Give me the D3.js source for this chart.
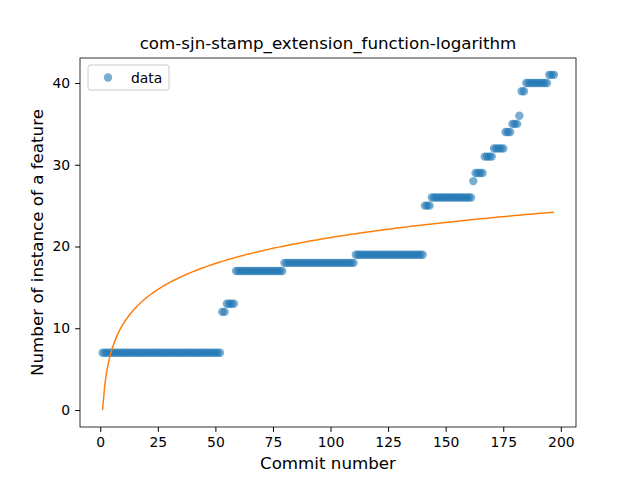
<!DOCTYPE html>
<html><head><meta charset="utf-8">
<script src="https://cdn.jsdelivr.net/npm/d3@7"></script>
<style>body{margin:0;background:#fff}text{font-family:"DejaVu Sans",sans-serif}</style>
</head><body><div id="chart"></div>
<script>
// Step segments: commit range and feature count
const segStart = [1, 53, 55, 59, 80, 111, 141, 144, 162, 163, 167, 171, 176, 179, 182, 183, 185, 195];
const segEnd   = [52, 54, 58, 79, 110, 140, 143, 161, 162, 166, 170, 175, 178, 181, 182, 184, 194, 197];
const segValue = [7, 12, 13, 17, 18, 19, 25, 26, 28, 29, 31, 32, 34, 35, 36, 39, 40, 41];
// logarithmic fit y = a + b*ln(x)
const fitA = 0, fitB = 4.58, fitMax = 197;
const xTicks = [0, 25, 50, 75, 100, 125, 150, 175, 200];
const yTicks = [0, 10, 20, 30, 40];

const points = [];
segStart.forEach((s, i) => { for (let x = s; x <= segEnd[i]; x++) points.push({x: x, y: segValue[i]}); });
const fit = d3.range(1, fitMax + 1).map(x => ({x: x, y: fitA + fitB * Math.log(x)}));

const margin = {top: 58, right: 64, bottom: 53, left: 80};
const width = 640 - margin.left - margin.right;
const height = 480 - margin.top - margin.bottom;

const svg = d3.select("#chart").append("svg").attr("width", 640).attr("height", 480);
const g = svg.append("g").attr("transform", "translate(" + margin.left + "," + margin.top + ")");

const x = d3.scaleLinear().domain([-8.8, 206.6]).range([0, width]);
const y = d3.scaleLinear().domain([-2.08, 43.06]).range([height, 0]);

g.selectAll(".pt").data(points).enter().append("circle")
  .attr("cx", d => x(d.x)).attr("cy", d => y(d.y)).attr("r", 4.2)
  .attr("fill", "#1f77b4").attr("fill-opacity", 0.6);

g.append("path").datum(fit)
  .attr("fill", "none").attr("stroke", "#ff7f0e").attr("stroke-width", 1.5)
  .attr("d", d3.line().x(d => x(d.x)).y(d => y(d.y)));

const xa = g.append("g").attr("transform", "translate(0," + height + ")")
  .call(d3.axisBottom(x).tickValues(xTicks).tickSize(4.9).tickPadding(4.9));
const ya = g.append("g").call(d3.axisLeft(y).tickValues(yTicks).tickSize(4.9).tickPadding(4.9));
[xa, ya].forEach(a => { a.selectAll("text").attr("font-size", 13.9).attr("fill", "#000"); a.select(".domain").remove(); });

g.append("rect").attr("width", width).attr("height", height)
  .attr("fill", "none").attr("stroke", "#000").attr("stroke-width", 0.8);

svg.append("text").attr("x", margin.left + width / 2).attr("y", 49).attr("text-anchor", "middle")
  .attr("font-size", 16.7).text("com-sjn-stamp_extension_function-logarithm");
svg.append("text").attr("x", margin.left + width / 2).attr("y", 469).attr("text-anchor", "middle")
  .attr("font-size", 16.7).text("Commit number");
svg.append("text").attr("transform", "rotate(-90)").attr("x", -(margin.top + height / 2)).attr("y", 43)
  .attr("text-anchor", "middle").attr("font-size", 16.7).text("Number of instance of a feature");

const leg = g.append("g").attr("transform", "translate(8,7)");
leg.append("rect").attr("width", 81).attr("height", 25).attr("rx", 2)
  .attr("fill", "#fff").attr("fill-opacity", 0.8).attr("stroke", "#ccc");
leg.append("circle").attr("cx", 20).attr("cy", 12.5).attr("r", 4.2).attr("fill", "#1f77b4").attr("fill-opacity", 0.6);
leg.append("text").attr("x", 43).attr("y", 17.5).attr("font-size", 13.9).text("data");
</script></body></html>
